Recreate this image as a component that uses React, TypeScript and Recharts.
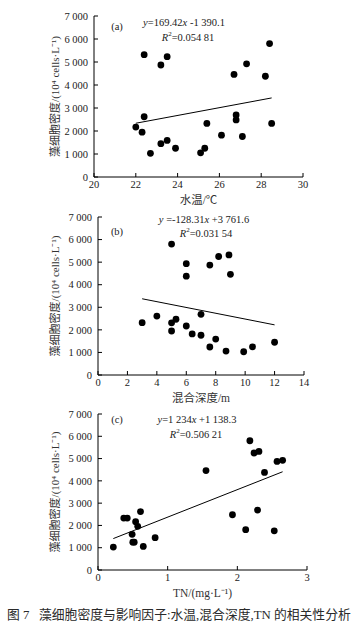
import React from 'react';
import { ScatterChart, Scatter, XAxis, YAxis, Label } from 'recharts';

// (a) water temperature vs cell density
const tempX = [22.0, 22.3, 22.4, 22.4, 22.7, 23.2, 23.2, 23.5, 23.5, 23.9, 25.1, 25.3, 25.4, 26.1, 26.7, 26.8, 26.8, 27.1, 27.3, 28.2, 28.4, 28.5];
const tempY = [2170, 1950, 5320, 2620, 1030, 1450, 4870, 1590, 5230, 1250, 1050, 1250, 2330, 1820, 4460, 2700, 2480, 1760, 4920, 4380, 5800, 2330];
const tempFit = [{ x: 22.0, y: 2337 }, { x: 28.5, y: 3438 }];

// (b) mixing depth vs cell density
const depthX = [3.0, 4.0, 5.0, 5.0, 5.0, 5.3, 6.0, 6.0, 6.0, 6.4, 7.0, 7.0, 7.6, 7.6, 8.0, 8.2, 8.7, 8.9, 9.0, 9.9, 10.5, 12.0];
const depthY = [2320, 2610, 5800, 2310, 1950, 2470, 4930, 4380, 2170, 1820, 2690, 1760, 4870, 1240, 1590, 5250, 1060, 5320, 4460, 1030, 1250, 1450];
const depthFit = [{ x: 3, y: 3377 }, { x: 12, y: 2222 }];

// (c) TN vs cell density
const tnX = [0.22, 0.37, 0.42, 0.49, 0.5, 0.52, 0.54, 0.57, 0.61, 0.65, 0.82, 1.55, 1.93, 2.12, 2.18, 2.24, 2.29, 2.31, 2.39, 2.53, 2.57, 2.65];
const tnY = [1030, 2330, 2330, 1600, 1250, 1250, 2170, 1960, 2620, 1060, 1450, 4460, 2480, 1810, 5800, 5250, 2690, 5320, 4380, 1760, 4870, 4920];
const tnFit = [{ x: 0.22, y: 1410 }, { x: 2.65, y: 4408 }];

const yTicks = [0, 1000, 2000, 3000, 4000, 5000, 6000, 7000];
const tempTicks = [20, 22, 24, 26, 28, 30];
const depthTicks = [0, 2, 4, 6, 8, 10, 12, 14];
const tnTicks = [0, 1, 2, 3];

const Y_LABEL = '藻细胞密度/(10⁴ cells·L⁻¹)';
const SERIF = '"Liberation Serif", "Times New Roman", serif';
const MIXED = '"Liberation Serif", "Noto Sans CJK SC", sans-serif';

const tick = { fill: '#222', fontSize: 10.5, fontFamily: SERIF } as const;

const fmt = (v: number) =>
  v >= 1000 ? `${Math.floor(v / 1000)} ${String(v % 1000).padStart(3, '0')}` : String(v);

const zip = (xs: number[], ys: number[]) => xs.map((x, i) => ({ x, y: ys[i] }));

function Panel({
  top,
  height,
  marginTop,
  right,
  left,
  xDomain,
  xTicks,
  xLabel,
  points,
  fit,
}: {
  top: number;
  height: number;
  marginTop: number;
  right: number;
  left: number;
  xDomain: [number, number];
  xTicks: number[];
  xLabel: string;
  points: { x: number; y: number }[];
  fit: { x: number; y: number }[];
}) {
  return (
    <div style={{ position: 'absolute', left: 0, top }}>
      <ScatterChart width={361} height={height} margin={{ top: marginTop, right, left: 0, bottom: 0 }}>
        <XAxis
          type="number"
          dataKey="x"
          domain={xDomain}
          ticks={xTicks}
          tick={tick}
          tickSize={-4}
          tickMargin={8}
          height={30}
          axisLine={{ stroke: '#000' }}
          tickLine={{ stroke: '#000' }}
          allowDataOverflow
        >
          <Label
            value={xLabel}
            position="insideBottom"
            offset={3}
            style={{ fill: '#333', fontSize: 11.5, fontFamily: MIXED }}
          />
        </XAxis>
        <YAxis
          type="number"
          dataKey="y"
          domain={[0, 7000]}
          ticks={yTicks}
          tick={tick}
          tickFormatter={fmt}
          tickSize={-4}
          tickMargin={10}
          width={left}
          axisLine={{ stroke: '#000' }}
          tickLine={{ stroke: '#000' }}
        >
          <Label
            value={Y_LABEL}
            angle={-90}
            position="insideLeft"
            offset={55}
            style={{ textAnchor: 'middle', fill: '#333', fontSize: 11, fontFamily: MIXED }}
          />
        </YAxis>
        <Scatter data={fit} line={{ stroke: '#000', strokeWidth: 1 }} shape={() => <g />} isAnimationActive={false} />
        <Scatter data={points} fill="#000" shape={(p: any) => <circle cx={p.cx} cy={p.cy} r={3.4} fill="#000" />} isAnimationActive={false} />
      </ScatterChart>
    </div>
  );
}

function Note({ x, y, children }: { x: number; y: number; children: React.ReactNode }) {
  return (
    <div
      style={{
        position: 'absolute',
        left: x,
        top: y,
        transform: 'translate(-50%, -50%)',
        whiteSpace: 'nowrap',
        fontFamily: SERIF,
        fontSize: 10.5,
        color: '#222',
        lineHeight: 1,
      }}
    >
      {children}
    </div>
  );
}

export default function App() {
  return (
    <div style={{ position: 'absolute', left: 0, top: 0, width: 361, height: 627, background: '#fff' }}>
      <Panel top={0} height={207} marginTop={16} right={58} left={94} xDomain={[20, 30]} xTicks={tempTicks} xLabel="水温/℃" points={zip(tempX, tempY)} fit={tempFit} />
      <Panel top={207} height={198} marginTop={10} right={57} left={98} xDomain={[0, 14]} xTicks={depthTicks} xLabel="混合深度/m" points={zip(depthX, depthY)} fit={depthFit} />
      <Panel top={405} height={195} marginTop={9} right={54} left={98} xDomain={[0, 3]} xTicks={tnTicks} xLabel="TN/(mg·L⁻¹)" points={zip(tnX, tnY)} fit={tnFit} />

      <Note x={117} y={27}>(a)</Note>
      <Note x={184} y={23}>
        <i>y</i>=169.42<i>x</i> -1 390.1
      </Note>
      <Note x={188} y={37}>
        <i>R</i>
        <sup style={{ fontSize: 7 }}>2</sup>=0.054 81
      </Note>

      <Note x={117} y={232}>(b)</Note>
      <Note x={204} y={220}>
        <i>y</i> =-128.31<i>x</i> +3 761.6
      </Note>
      <Note x={206} y={233}>
        <i>R</i>
        <sup style={{ fontSize: 7 }}>2</sup>=0.031 54
      </Note>

      <Note x={117} y={420}>(c)</Note>
      <Note x={197} y={420}>
        <i>y</i>=1 234<i>x</i> +1 138.3
      </Note>
      <Note x={196} y={434}>
        <i>R</i>
        <sup style={{ fontSize: 7 }}>2</sup>=0.506 21
      </Note>

      <div
        style={{
          position: 'absolute',
          left: 7,
          top: 607,
          whiteSpace: 'nowrap',
          fontFamily: MIXED,
          fontSize: 12.8,
          color: '#2a2a2a',
          lineHeight: '16px',
        }}
      >
        图 7&nbsp;&nbsp;&nbsp;藻细胞密度与影响因子:水温,混合深度,TN 的相关性分析
      </div>
    </div>
  );
}
